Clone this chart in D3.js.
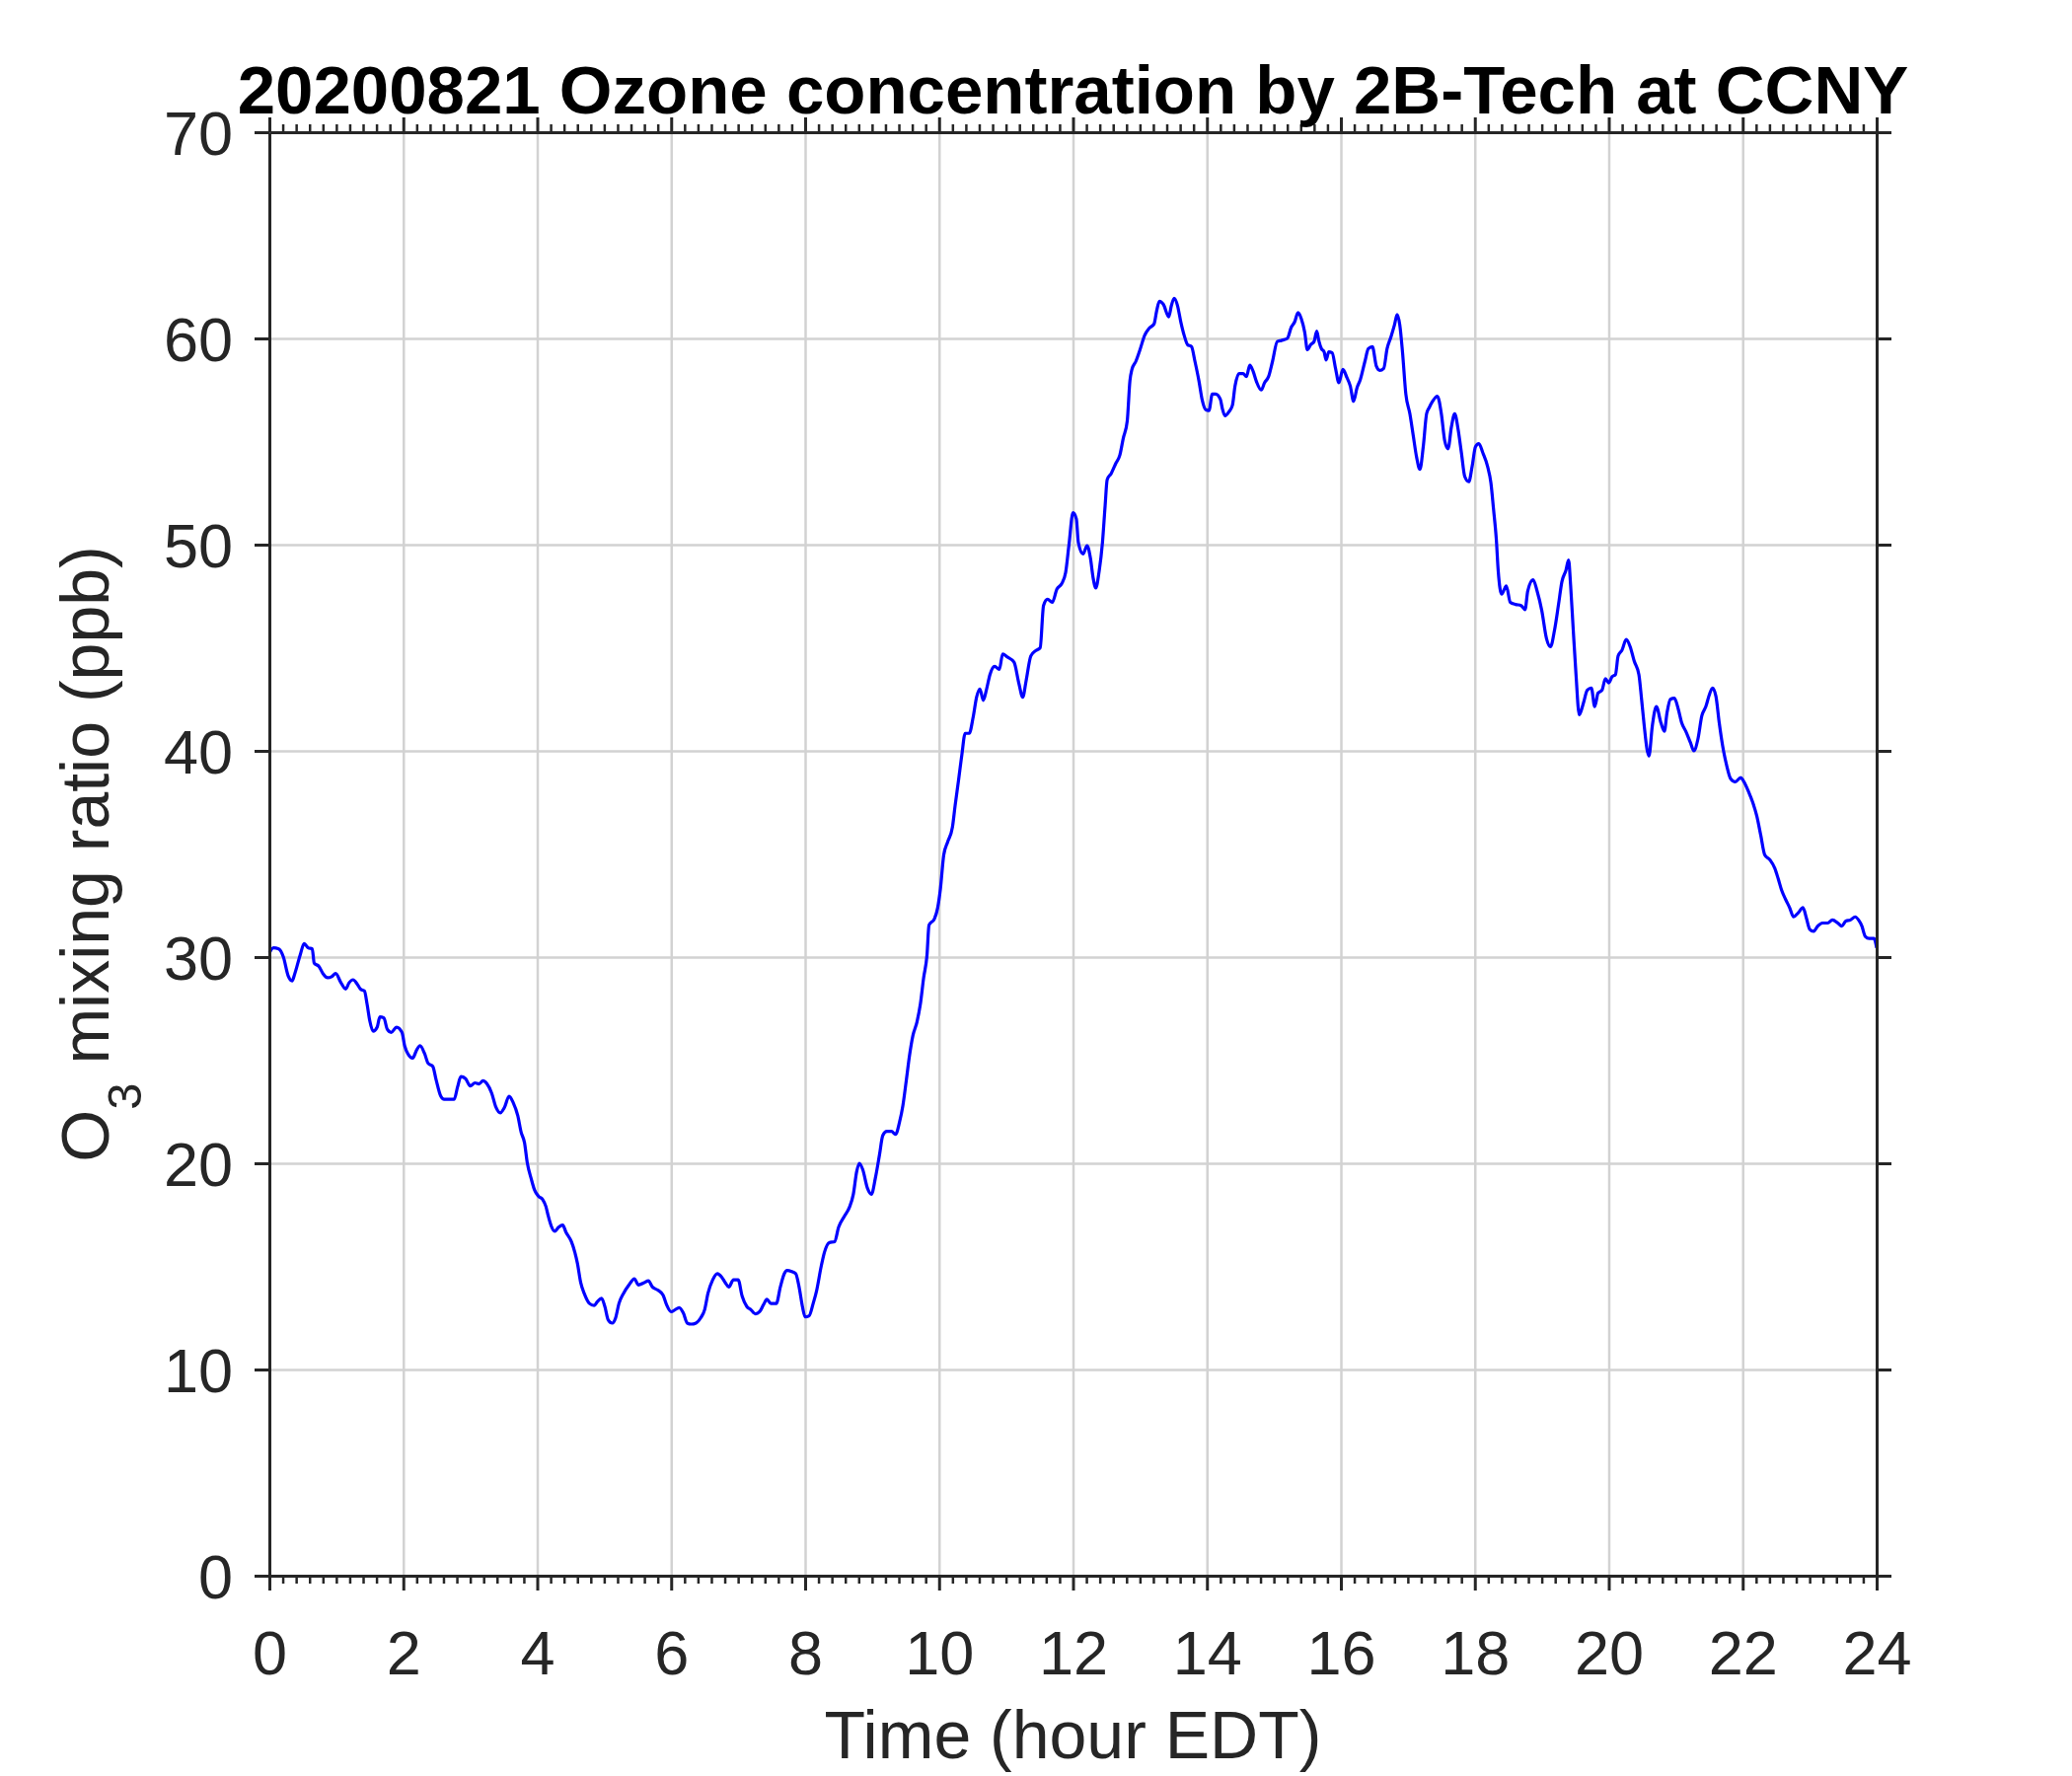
<!DOCTYPE html>
<html>
<head>
<meta charset="utf-8">
<script src="https://cdn.jsdelivr.net/npm/d3@7"></script>
<style>
  html, body { margin: 0; padding: 0; background: #ffffff; }
  svg { display: block; }
  text { font-family: "Liberation Sans", Arial, Helvetica, sans-serif; }
</style>
</head>
<body>
<script>
// ---------------- data ----------------
const hours = [
  0.00,0.06,0.14,0.21,0.28,0.34,0.38,0.46,0.52,0.58,0.64,0.67,0.74,0.80,0.87,0.93,0.99,
  1.07,1.14,1.19,1.25,1.31,1.36,1.42,1.46,1.50,1.55,1.61,1.65,1.71,1.76,1.82,1.90,1.98,
  2.02,2.07,2.14,2.20,2.25,2.32,2.37,2.44,2.49,2.56,2.61,2.69,2.76,2.81,2.86,2.93,
  3.00,3.07,3.13,3.19,3.25,3.32,3.38,3.45,3.51,3.58,3.64,3.71,3.76,3.81,3.85,3.91,3.96,
  4.02,4.08,4.13,4.16,4.21,4.26,4.32,4.38,4.43,4.51,4.56,4.60,4.65,4.70,4.78,4.85,4.90,4.96,
  5.01,5.06,5.12,5.17,5.22,5.29,5.37,5.45,5.51,5.59,5.66,5.72,5.80,5.88,5.93,
  6.00,6.06,6.12,6.18,6.24,6.30,6.37,6.44,6.50,6.55,6.62,6.69,6.75,6.81,6.86,6.93,
  7.00,7.06,7.13,7.19,7.26,7.32,7.38,7.43,7.49,7.57,7.63,7.69,7.73,7.80,7.86,7.91,7.96,
  8.00,8.06,8.12,8.17,8.24,8.29,8.36,8.44,8.50,8.59,8.66,8.72,8.77,8.81,8.86,8.93,8.99,
  9.05,9.11,9.16,9.22,9.29,9.35,9.41,9.46,9.51,9.56,9.61,9.67,9.72,9.77,9.82,9.85,9.93,9.98,
  10.02,10.07,10.13,10.20,10.24,10.29,10.34,10.39,10.45,10.51,10.56,10.61,10.66,10.71,10.76,10.83,10.90,10.95,
  11.02,11.12,11.19,11.25,11.30,11.37,11.44,11.51,11.56,11.62,11.69,11.76,11.83,11.89,11.94,
  12.00,12.05,12.08,12.15,12.21,12.26,12.30,12.34,12.39,12.44,12.48,12.51,12.57,12.64,12.70,12.75,12.81,12.85,12.88,12.94,
  13.00,13.07,13.14,13.21,13.25,13.29,13.35,13.43,13.47,13.51,13.56,13.61,13.66,13.71,13.77,13.82,13.88,13.93,13.98,
  14.03,14.08,14.13,14.20,14.23,14.27,14.33,14.38,14.42,14.48,14.54,14.59,14.64,14.69,14.74,14.81,14.86,14.92,14.98,
  15.05,15.11,15.20,15.26,15.31,15.36,15.41,15.46,15.50,15.55,15.60,15.64,15.67,15.71,15.75,15.78,15.82,15.87,15.92,15.97,
  16.03,16.09,16.14,16.19,16.24,16.29,16.36,16.41,16.47,16.53,16.58,16.64,16.69,16.75,16.80,16.84,16.88,16.92,16.97,
  17.03,17.08,17.13,17.18,17.23,17.28,17.32,17.37,17.44,17.50,17.55,17.60,17.65,17.70,17.75,17.80,17.85,17.91,17.96,
  18.01,18.06,18.12,18.19,18.24,18.28,18.32,18.35,18.40,18.47,18.53,18.61,18.69,18.75,18.79,18.87,18.93,
  19.00,19.07,19.13,19.19,19.25,19.30,19.36,19.40,19.43,19.47,19.51,19.56,19.62,19.68,19.74,19.79,19.84,19.90,19.95,
  20.00,20.05,20.10,20.14,20.20,20.26,20.32,20.38,20.45,20.49,20.53,20.57,20.60,20.65,20.71,20.78,20.83,20.87,20.92,20.98,
  21.04,21.09,21.15,21.22,21.27,21.33,21.39,21.45,21.50,21.55,21.60,21.65,21.70,21.76,21.82,21.89,21.97,
  22.01,22.09,22.15,22.21,22.27,22.33,22.41,22.48,22.53,22.58,22.64,22.70,22.76,22.83,22.90,22.95,
  23.00,23.06,23.12,23.19,23.27,23.34,23.42,23.48,23.54,23.61,23.68,23.73,23.78,23.83,23.89,23.96,24.00
];
const ozone = [
  30.2,30.45,30.4,30.0,29.1,28.85,29.2,30.1,30.65,30.45,30.4,29.7,29.55,29.2,29.0,29.05,29.2,
  28.75,28.45,28.75,28.9,28.7,28.45,28.35,27.7,26.9,26.4,26.6,27.1,27.05,26.5,26.35,26.6,26.35,
  25.7,25.3,25.1,25.5,25.7,25.3,24.85,24.7,24.05,23.25,23.1,23.1,23.1,23.7,24.2,24.1,
  23.75,23.9,23.85,24.0,23.85,23.4,22.75,22.45,22.7,23.25,22.95,22.3,21.5,21.0,20.05,19.25,18.7,
  18.4,18.25,17.9,17.5,16.95,16.7,16.9,17.0,16.65,16.2,15.7,15.15,14.2,13.7,13.2,13.1,13.3,13.45,
  13.05,12.4,12.25,12.5,13.2,13.7,14.1,14.4,14.1,14.2,14.3,14.0,13.85,13.6,13.15,
  12.8,12.9,13.0,12.75,12.25,12.2,12.25,12.5,12.9,13.7,14.35,14.65,14.5,14.2,14.0,14.35,
  14.35,13.55,13.05,12.9,12.7,12.8,13.15,13.4,13.2,13.2,14.0,14.65,14.8,14.75,14.65,14.0,13.05,
  12.55,12.6,13.2,13.8,15.0,15.7,16.15,16.2,16.9,17.45,17.85,18.5,19.6,20.0,19.7,18.8,18.5,
  19.3,20.4,21.35,21.55,21.55,21.4,22.0,22.8,24.0,25.25,26.2,26.85,27.7,29.0,30.1,31.55,31.85,32.4,
  33.3,34.95,35.6,36.3,37.35,38.55,39.8,40.85,40.85,41.65,42.6,43.0,42.45,43.0,43.7,44.1,43.95,44.7,
  44.55,44.3,43.3,42.6,43.4,44.6,44.85,45.0,47.05,47.35,47.2,47.85,48.1,48.65,50.0,
  51.55,51.25,50.1,49.55,49.95,49.35,48.4,47.9,48.7,50.1,51.9,53.15,53.45,53.95,54.35,55.15,56.0,57.95,58.5,58.9,
  59.45,60.15,60.5,60.7,61.35,61.8,61.65,61.05,61.6,61.95,61.6,60.8,60.15,59.7,59.6,58.9,57.95,57.0,56.55,
  56.5,57.3,57.3,57.05,56.6,56.25,56.45,56.75,57.7,58.3,58.3,58.15,58.7,58.4,57.9,57.5,57.85,58.15,58.9,
  59.85,59.9,60.0,60.55,60.8,61.25,60.95,60.3,59.45,59.7,59.85,60.35,59.9,59.5,59.35,58.95,59.35,59.3,58.55,57.85,
  58.5,58.1,57.7,56.95,57.6,58.0,58.9,59.5,59.6,58.65,58.45,58.55,59.5,60.1,60.65,61.15,60.65,59.35,57.3,
  56.35,55.3,54.25,53.65,54.75,56.35,56.65,56.95,57.2,56.35,55.05,54.65,55.7,56.35,55.6,54.45,53.3,53.05,53.8,
  54.75,54.9,54.45,53.8,53.0,51.7,50.3,48.7,47.6,48.0,47.2,47.1,47.05,46.85,47.75,48.3,47.75,
  46.8,45.45,45.05,45.85,47.1,48.2,48.75,49.25,48.05,45.85,43.75,41.75,42.3,42.95,43.05,42.15,42.8,42.95,43.5,
  43.3,43.6,43.7,44.6,44.9,45.4,45.05,44.35,43.7,42.5,41.2,40.1,39.75,41.2,42.15,41.35,40.95,41.85,42.5,42.55,
  42.0,41.35,40.95,40.4,40.0,40.55,41.7,42.15,42.7,43.05,42.65,41.35,40.25,39.3,38.65,38.5,38.7,
  38.55,38.0,37.5,36.85,35.9,34.95,34.7,34.3,33.8,33.25,32.8,32.4,31.95,32.15,32.4,31.9,
  31.35,31.25,31.5,31.65,31.65,31.8,31.65,31.5,31.75,31.8,31.95,31.8,31.5,31.0,30.9,30.9,30.45
];
const xTicks = [0, 2, 4, 6, 8, 10, 12, 14, 16, 18, 20, 22, 24];
const yTicks = [0, 10, 20, 30, 40, 50, 60, 70];
const xMinorStep = 0.2;
const titleText = "20200821 Ozone concentration by 2B-Tech at CCNY";
const xLabelText = "Time (hour EDT)";
const yLabelMain = "O";
const yLabelSub = "3";
const yLabelRest = " mixing ratio (ppb)";

// ---------------- layout ----------------
const W = 2100, H = 1800;
const L = 273, R = 1902, T = 134, B = 1597;
const axisColor = "#262626";
const gridColor = "#d2d2d2";

const svg = d3.select("body").append("svg")
  .attr("width", W).attr("height", H)
  .attr("viewBox", `0 0 ${W} ${H}`);

svg.append("rect").attr("width", W).attr("height", H).attr("fill", "#fff");

const x = d3.scaleLinear().domain([0, 24]).range([L, R]);
const y = d3.scaleLinear().domain([0, 70]).range([B, T]);

// gridlines
const grid = svg.append("g").attr("class", "grid");
grid.append("g")
  .attr("transform", `translate(0,${B})`)
  .call(d3.axisBottom(x).tickValues(xTicks).tickSize(-(B - T)).tickFormat(""))
  .call(g => g.select(".domain").remove())
  .call(g => g.selectAll("line").attr("stroke", gridColor).attr("stroke-width", 2.5));
grid.append("g")
  .attr("transform", `translate(${L},0)`)
  .call(d3.axisLeft(y).tickValues(yTicks).tickSize(-(R - L)).tickFormat(""))
  .call(g => g.select(".domain").remove())
  .call(g => g.selectAll("line").attr("stroke", gridColor).attr("stroke-width", 2.5));

// data line
const pts = hours.map((h, i) => [h, ozone[i]]);
const line = d3.line().x(d => x(d[0])).y(d => y(d[1])).curve(d3.curveMonotoneX);
svg.append("path")
  .datum(pts)
  .attr("d", line)
  .attr("fill", "none")
  .attr("stroke", "#0000ff")
  .attr("stroke-width", 3.2)
  .attr("stroke-linejoin", "round");

// axes
const minorVals = d3.range(0, 24 + 1e-9, xMinorStep).filter(v => Math.abs(v / 2 - Math.round(v / 2)) > 1e-6);
function styleAxis(g) {
  g.select(".domain").attr("stroke", axisColor).attr("stroke-width", 3);
  g.selectAll(".tick line").attr("stroke", axisColor).attr("stroke-width", 3);
}
function styleMinor(g) {
  g.select(".domain").remove();
  g.selectAll(".tick line").attr("stroke", axisColor).attr("stroke-width", 2.5);
}
const tickFont = 63;

// bottom
svg.append("g").attr("transform", `translate(0,${B})`)
  .call(d3.axisBottom(x).tickValues(minorVals).tickSize(8).tickSizeOuter(0).tickFormat(""))
  .call(styleMinor);
svg.append("g").attr("transform", `translate(0,${B})`)
  .call(d3.axisBottom(x).tickValues(xTicks).tickSize(15).tickSizeOuter(0).tickFormat(d3.format("d")))
  .call(styleAxis)
  .call(g => g.selectAll(".tick text")
    .attr("y", 100).attr("dy", null)
    .attr("fill", axisColor).attr("font-size", tickFont)
    .attr("font-family", "Liberation Sans, Arial, sans-serif"));
// top
svg.append("g").attr("transform", `translate(0,${T})`)
  .call(d3.axisTop(x).tickValues(minorVals).tickSize(8).tickSizeOuter(0).tickFormat(""))
  .call(styleMinor);
svg.append("g").attr("transform", `translate(0,${T})`)
  .call(d3.axisTop(x).tickValues(xTicks).tickSize(15).tickSizeOuter(0).tickFormat(""))
  .call(styleAxis);
// left
svg.append("g").attr("transform", `translate(${L},0)`)
  .call(d3.axisLeft(y).tickValues(yTicks).tickSize(15).tickSizeOuter(0).tickFormat(d3.format("d")))
  .call(styleAxis)
  .call(g => g.selectAll(".tick text")
    .attr("x", -37).attr("dy", "0.35em")
    .attr("fill", axisColor).attr("font-size", tickFont)
    .attr("font-family", "Liberation Sans, Arial, sans-serif"));
// right
svg.append("g").attr("transform", `translate(${R},0)`)
  .call(d3.axisRight(y).tickValues(yTicks).tickSize(15).tickSizeOuter(0).tickFormat(""))
  .call(styleAxis);

// remove default font settings of axis groups
svg.selectAll("g").attr("font-family", null).attr("font-size", null);

// title
svg.append("text")
  .attr("x", (L + R) / 2).attr("y", 115)
  .attr("text-anchor", "middle")
  .attr("font-size", 69).attr("font-weight", "bold")
  .attr("fill", "#000")
  .text(titleText);

// x label
svg.append("text")
  .attr("x", (L + R) / 2).attr("y", 1782)
  .attr("text-anchor", "middle")
  .attr("font-size", 68)
  .attr("fill", axisColor)
  .text(xLabelText);

// y label
const yl = svg.append("text")
  .attr("transform", `translate(110,${(T + B) / 2}) rotate(-90)`)
  .attr("text-anchor", "middle")
  .attr("font-size", 68)
  .attr("fill", axisColor);
yl.append("tspan").text(yLabelMain);
yl.append("tspan").attr("font-size", 49).attr("dy", 33).text(yLabelSub);
yl.append("tspan").attr("dy", -33).text(yLabelRest);
</script>
</body>
</html>
